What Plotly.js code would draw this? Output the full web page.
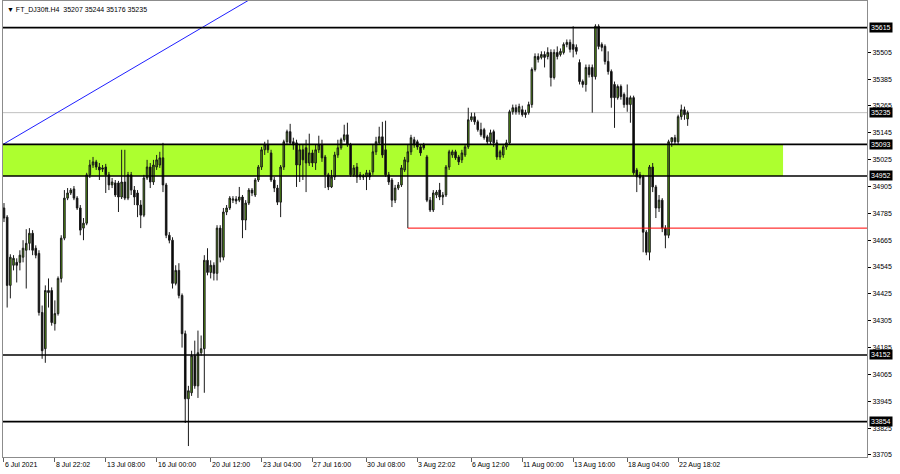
<!DOCTYPE html>
<html><head><meta charset="utf-8">
<script src="https://cdn.plot.ly/plotly-3.0.1.min.js"></script>
<style>html,body{margin:0;padding:0;background:#fff}#chart{width:900px;height:474px}</style>
</head><body><div id="chart"></div>
<script>
// H4 candles, FT_DJ30 (6 Jul 2021 .. 22 Aug 2021)
const openP = [
34809,34768,34463,34553,34566,34566,34589,34620,34651,34696,
34629,34606,34342,34180,34440,34440,34292,34337,34494,34674,
34853,34876,34894,34853,34809,34719,34741,34957,35001,35015,
34992,34988,34992,34957,34912,34921,34921,34858,34925,34853,
34957,34889,34876,34822,34777,34943,34992,34925,34992,35001,
35033,34912,34687,34665,34472,34530,34418,34247,33956,33983,
34149,34014,34162,34180,34575,34521,34553,34517,34719,34589,
34791,34809,34844,34849,34844,34858,34755,34831,34889,34867,
34934,34992,35069,35091,35055,34934,34898,34835,34992,35105,
35150,35105,35100,35001,35069,35078,35010,35055,35010,35069,
35091,35037,34957,34903,34948,35046,35078,35114,35136,35091,
34957,34992,34957,34952,34948,34966,34970,35060,35100,35127,
35069,34957,34934,34844,34898,34912,34979,35015,35060,35114,
35105,35082,35091,35037,34844,34800,34867,34889,34858,34867,
34992,35046,35060,35037,35024,35046,35082,35203,35217,35194,
35159,35159,35127,35105,35150,35100,35037,35046,35082,35100,
35239,35257,35239,35248,35235,35235,35271,35428,35486,35482,
35495,35486,35504,35392,35504,35495,35504,35540,35549,35540,
35527,35459,35374,35361,35437,35437,35396,35621,35540,35531,
35464,35419,35361,35302,35352,35316,35302,35271,35302,34979,
34957,34948,34701,34611,34992,34903,34809,34844,34719,34687,
35105,35123,35105,35217,35248,35207];
const highP = [
34831,34777,34602,34598,34584,34620,34665,34714,34719,34710,
34642,34620,34373,34463,34494,34454,34396,34503,34687,34889,
34898,34898,34907,34862,34822,34764,34966,35024,35037,35024,
35010,35001,35006,34970,34943,34934,34930,35069,35069,34970,
34970,34907,34889,34844,34957,35024,35010,35024,35046,35060,
35100,34921,34701,34678,34553,34562,34427,34261,34014,34171,
34216,34261,34239,34598,34629,34575,34566,34732,34732,34809,
34822,34862,34862,34862,34903,34867,34844,34898,34898,34943,
35001,35082,35105,35114,35069,34948,34912,35001,35114,35159,
35185,35123,35114,35091,35091,35114,35141,35069,35091,35132,
35114,35046,34966,34979,35060,35114,35123,35181,35190,35100,
35001,35010,34970,34961,34979,34979,35091,35127,35172,35194,
35199,34970,34943,34912,34925,35001,35037,35091,35136,35127,
35114,35091,35100,35046,34858,34889,34889,34921,34880,35001,
35069,35069,35069,35046,35069,35091,35257,35235,35235,35203,
35190,35167,35136,35159,35159,35114,35069,35091,35114,35248,
35271,35271,35275,35266,35248,35284,35437,35500,35500,35509,
35509,35527,35518,35518,35531,35522,35549,35562,35562,35621,
35540,35473,35383,35450,35450,35450,35630,35630,35549,35540,
35509,35428,35374,35361,35361,35325,35361,35311,35311,34988,
34970,34957,34710,35001,35010,34912,34867,34853,34732,35114,
35123,35136,35226,35271,35262,35244];
const lowP = [
34746,34364,34405,34530,34476,34530,34566,34449,34620,34598,
34584,34328,34135,34117,34364,34283,34261,34328,34476,34665,
34844,34867,34844,34800,34687,34665,34732,34943,34988,34979,
34934,34970,34876,34889,34898,34858,34791,34849,34844,34844,
34867,34822,34768,34719,34768,34934,34898,34912,34979,34988,
34880,34674,34651,34449,34463,34405,34185,33848,33745,33969,
34001,33960,34149,33983,34508,34494,34485,34485,34566,34575,
34777,34800,34831,34826,34835,34674,34710,34822,34862,34858,
34925,34979,35046,35055,34925,34880,34822,34768,34979,35091,
35091,35069,34903,34925,34934,34880,34997,34992,34979,35055,
35015,34898,34889,34898,34934,35033,35069,35105,35082,34948,
34948,34921,34934,34934,34889,34934,34957,35046,35091,35033,
34948,34912,34813,34831,34889,34903,34970,34719,35046,35078,
35069,35042,35069,34835,34791,34791,34853,34844,34822,34858,
34979,35033,35024,35001,35010,35037,35073,35194,35181,35150,
35127,35114,35091,35091,35082,35024,35024,35033,35069,35091,
35226,35226,35226,35217,35212,35226,35257,35419,35459,35473,
35437,35473,35352,35383,35473,35486,35495,35527,35504,35482,
35495,35361,35347,35329,35392,35235,35383,35518,35509,35450,
35405,35257,35167,35293,35293,35257,35239,35190,34957,34880,
34912,34611,34598,34575,34880,34764,34791,34701,34629,34674,
35082,35091,35091,35203,35203,35176];
const closeP = [
34764,34463,34589,34584,34553,34598,34629,34651,34696,34620,
34598,34342,34171,34440,34431,34297,34337,34494,34674,34853,
34876,34889,34853,34809,34710,34741,34957,35001,35015,34992,
34979,34983,34957,34912,34925,34867,34858,34925,34853,34957,
34889,34858,34822,34777,34943,34992,34925,35001,35024,35033,
34912,34687,34665,34472,34530,34418,34247,33956,33992,34149,
34014,34162,34180,34575,34521,34553,34517,34719,34589,34791,
34809,34853,34849,34840,34858,34755,34831,34889,34876,34934,
34992,35069,35091,35069,34934,34898,34835,34992,35105,35150,
35100,35091,35001,35069,35024,35010,35055,35010,35069,35091,
35033,34957,34903,34948,35046,35078,35114,35136,35091,34957,
34988,34948,34948,34948,34966,34948,35060,35105,35127,35046,
34957,34925,34844,34898,34912,34988,35024,35060,35123,35091,
35082,35055,35078,34844,34800,34876,34880,34858,34867,34992,
35060,35060,35033,35015,35055,35082,35203,35217,35194,35159,
35136,35123,35105,35145,35100,35037,35060,35082,35100,35239,
35257,35239,35262,35226,35226,35271,35428,35486,35473,35495,
35482,35504,35392,35504,35486,35509,35540,35549,35518,35518,
35509,35374,35361,35437,35405,35396,35621,35531,35527,35464,
35419,35302,35302,35352,35307,35271,35271,35302,34966,34948,
34943,34701,34611,34992,34903,34809,34844,34719,34687,35105,
35123,35105,35217,35248,35226,35235];

const xTickIdx  = [0,16,32,48,65,81,97,114,130,147,163,179,196,212];
const xTickText = ['6 Jul 2021','8 Jul 22:02','13 Jul 08:00','16 Jul 00:00','20 Jul 12:00','23 Jul 04:00',
  '27 Jul 16:00','30 Jul 08:00','3 Aug 22:02','6 Aug 12:00','11 Aug 00:00','13 Aug 16:00','18 Aug 04:00','22 Aug 18:02'];
const yTickVals = [33705,33825,33945,34065,34185,34305,34425,34545,34665,34785,34905,35025,35145,35265,35385,35505];

const levelPrices = [35615, 35093, 34952, 34152, 33854];
const bidPrice = 35235;
const zoneTop = 35093, zoneBottom = 34952, zoneEndIdx = 245;
const trendX = [-0.31, 80];
const trendY = [35093, 35763];
const redLevel = 34719, redStartIdx = 127;
const titleText = '\u25BC FT_DJ30ft.H4\u00a0\u00a035207 35244 35176 35235';

const xRange = [-0.31, 271.4];
const yRange = [33696, 35734];

const idx = openP.map((_, i) => i);
const FONT = 'Liberation Sans, Arial, sans-serif';

const traces = [
  {
    type: 'candlestick', x: idx, open: openP, high: highP, low: lowP, close: closeP,
    increasing: {line: {color: '#1a1a1a', width: 1}, fillcolor: '#5aa312'},
    decreasing: {line: {color: '#1a1a1a', width: 1}, fillcolor: '#000000'},
    whiskerwidth: 0, hoverinfo: 'skip', showlegend: false
  },
  {
    type: 'scatter', mode: 'lines', x: trendX, y: trendY,
    line: {color: '#1f1fff', width: 1}, hoverinfo: 'skip', showlegend: false
  }
];

const shapes = [
  {type: 'rect', xref: 'x', yref: 'y', x0: xRange[0], x1: zoneEndIdx, y0: zoneBottom, y1: zoneTop,
   fillcolor: '#adff2f', line: {width: 0}, layer: 'below'},
  {type: 'line', xref: 'paper', yref: 'y', x0: 0, x1: 1, y0: bidPrice, y1: bidPrice,
   line: {color: '#c0c0c0', width: 1}, layer: 'below'},
  {type: 'line', xref: 'x', yref: 'y', x0: redStartIdx, x1: xRange[1], y0: redLevel, y1: redLevel,
   line: {color: '#ff0000', width: 1}, layer: 'above'}
];
levelPrices.forEach(p => shapes.push({type: 'line', xref: 'paper', yref: 'y', x0: 0, x1: 1, y0: p, y1: p,
  line: {color: '#000000', width: 1.6}, layer: 'above'}));

const annotations = [];
xTickIdx.forEach((v, i) => annotations.push({
  x: v, xref: 'x', y: 0, yref: 'paper', yanchor: 'top', xanchor: 'left', yshift: -2, xshift: -1,
  text: xTickText[i], showarrow: false, font: {family: FONT, size: 7, color: '#000'}
}));
levelPrices.concat([bidPrice]).forEach(p => annotations.push({
  x: 1, xref: 'paper', xanchor: 'left', xshift: 2, y: p, yref: 'y', yanchor: 'middle',
  text: String(p), showarrow: false, bgcolor: '#000000', borderpad: 1,
  font: {family: FONT, size: 7, color: '#ffffff'}
}));
annotations.push({
  x: 0, xref: 'paper', xanchor: 'left', xshift: 2, y: 1, yref: 'paper', yanchor: 'top', yshift: -3,
  text: titleText, showarrow: false, font: {family: FONT, size: 7, color: '#000'}
});

const layout = {
  width: 900, height: 474,
  margin: {l: 3, r: 33, t: 1, b: 17},
  paper_bgcolor: '#ffffff', plot_bgcolor: '#ffffff',
  font: {family: FONT, size: 7, color: '#000'},
  separators: '.',
  showlegend: false,
  xaxis: {
    type: 'linear', range: xRange, rangeslider: {visible: false},
    tickmode: 'array', tickvals: xTickIdx, showticklabels: false,
    ticks: 'outside', ticklen: 4, tickcolor: '#606060', tickwidth: 1,
    showgrid: false, zeroline: false, showline: true, linecolor: '#8c8c8c', linewidth: 1, mirror: true
  },
  yaxis: {
    side: 'right', range: yRange, tickmode: 'array', tickvals: yTickVals,
    tickformat: 'd',
    ticks: 'outside', ticklen: 3, tickcolor: '#000', tickwidth: 1,
    tickfont: {family: FONT, size: 7, color: '#000'},
    showgrid: false, zeroline: false, showline: true, linecolor: '#8c8c8c', linewidth: 1, mirror: true
  },
  shapes: shapes,
  annotations: annotations
};

Plotly.newPlot('chart', traces, layout, {staticPlot: true, displayModeBar: false});
</script>
</body></html>
